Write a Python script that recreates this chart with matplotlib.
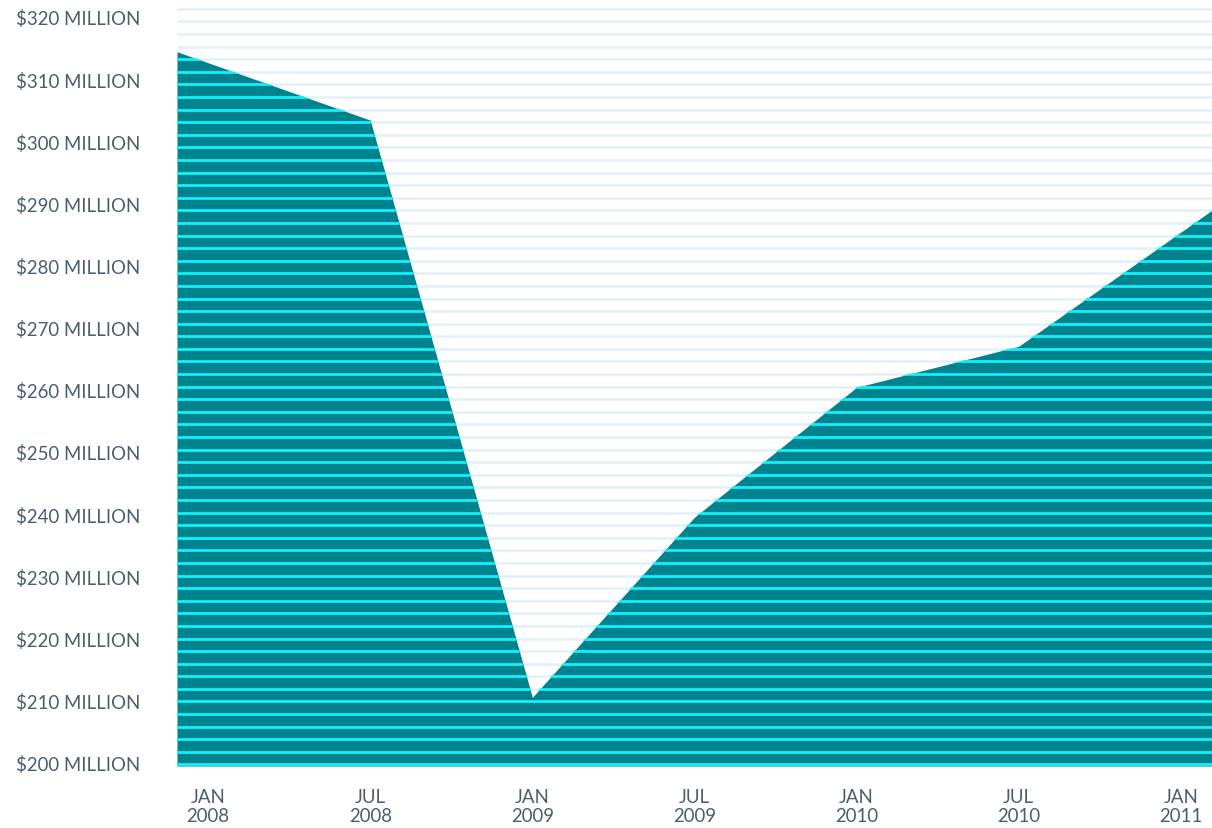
import numpy as np
import matplotlib
matplotlib.use('Agg')
import matplotlib.pyplot as plt
from matplotlib.path import Path

# months since Jan 2008 where the area vertices sit, and values in $ millions
months = [-1.15, 6, 12, 18, 24, 30, 37.15]
values = [314.4, 303.4, 210.5, 239.5, 260.4, 267.0, 288.9]

tick_months = [0, 6, 12, 18, 24, 30, 36]
tick_labels = ['JAN\n2008', 'JUL\n2008', 'JAN\n2009', 'JUL\n2009', 'JAN\n2010', 'JUL\n2010', 'JAN\n2011']
y_ticks = [200, 210, 220, 230, 240, 250, 260, 270, 280, 290, 300, 310, 320]

teal = '#00838f'
cyan = '#12f0f8'
pale = '#e2f1f8'
txt = '#4a5e6e'

plt.rcParams['font.family'] = ['Lato', 'DejaVu Sans']

fig = plt.figure(figsize=(12.12, 8.29), dpi=100)
ax = fig.add_axes([177/1212, 1 - 767/829, 1 - 177/1212, (767 - 8)/829])

y0, y1 = 199.45, 321.6
ax.set_xlim(months[0], months[-1])
ax.set_ylim(y0, y1)

# stripe positions (pattern, not data)
stripes = np.linspace(199.7, 321.3, 61)
ax.hlines(stripes, months[0], months[-1], color=pale, lw=1.8, zorder=0)

poly = ax.fill_between(months, values, y0, color=teal, lw=0, zorder=1)
clip = Path(np.column_stack([months + [months[-1], months[0]], values + [y0, y0]]))
lines = ax.hlines(stripes, months[0], months[-1], color=cyan, lw=2.0, zorder=2)
lines.set_clip_path(clip, ax.transData)

ax.set_yticks(y_ticks)
ax.set_yticklabels([f'${v} MILLION' for v in y_ticks], fontsize=13.4, color=txt)
ax.set_xticks(tick_months)
ax.set_xticklabels(tick_labels, fontsize=13.4, color=txt, linespacing=1.2)
ax.tick_params(axis='y', length=0, pad=26.5)
ax.tick_params(axis='x', length=0, pad=15.5)
for s in ax.spines.values():
    s.set_visible(False)

fig.savefig('out.png', dpi=100)
